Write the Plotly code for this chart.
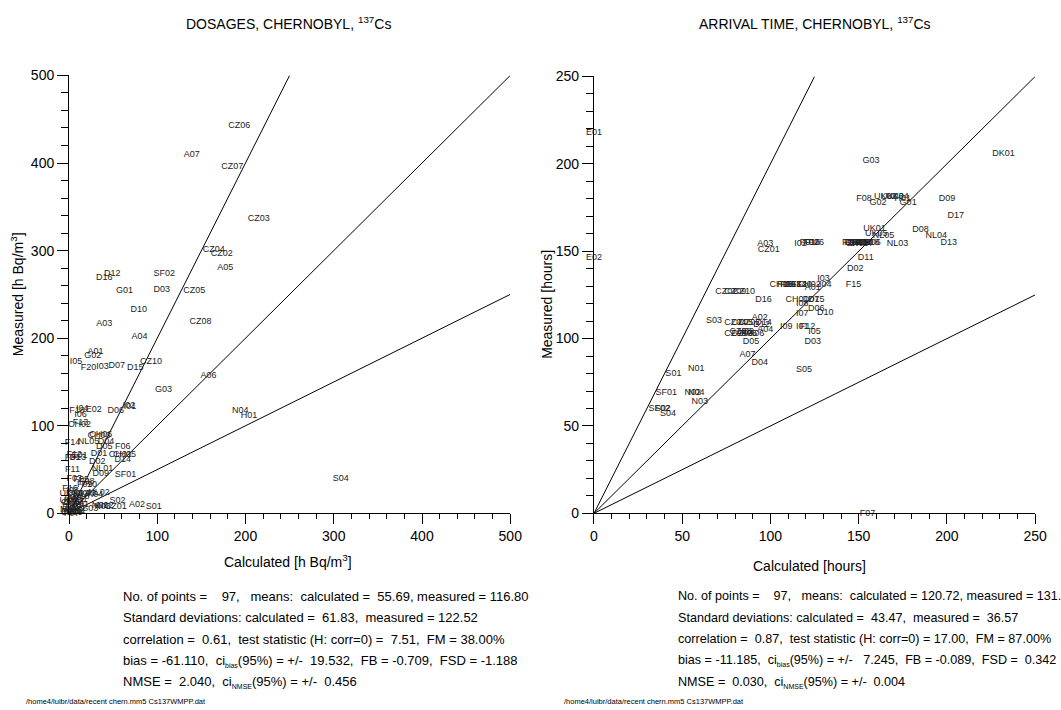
import plotly.graph_objects as go

W, H = 1061, 710
FONT = "Liberation Sans, Arial, sans-serif"

# ---------------- Data: DOSAGES (left) ----------------
dos_labels = ["CZ06", "A07", "CZ07", "CZ03", "CZ04", "CZ02", "A05", "D12", "D16", "SF02",
              "G01", "D03", "CZ05", "D10", "A03", "CZ08", "A04", "A01", "G02", "I05",
              "F20", "I03", "D07", "D15", "CZ10", "A06", "G03", "D06", "I02", "I01",
              "N04", "H01", "F18", "I04", "I06", "E02", "CH02", "F13", "CH03", "CH06",
              "F14", "NL05", "D04", "D05", "F06", "F12", "E01", "D01", "CH01", "CH05",
              "D14", "D02", "F01", "D13", "F11", "NL01", "D09", "SF01", "F03", "F05",
              "F08", "F09", "F10", "NL02", "UK01", "UK02", "UK03", "UK04", "S02", "N03",
              "CZ01", "A02", "S01", "S03", "S04", "N01", "N02", "UK05", "D08", "D17",
              "NL03", "NL04", "F04", "F07", "F15", "DK01", "CH04", "I09", "F17", "D11",
              "I07", "I08", "F16", "F19", "CZ09", "S05", "D18"]
dos_calc = [193, 139, 185, 215, 164, 173, 177, 49, 40, 108,
            63, 105, 142, 79, 40, 149, 80, 30, 27, 8,
            22, 38, 54, 75, 93, 158, 107, 53, 68, 69,
            194, 204, 9, 15, 13, 28, 12, 13, 34, 36,
            4, 22, 42, 40, 61, 6, 12, 34, 58, 63,
            61, 32, 4, 10, 4, 38, 36, 64, 6, 14,
            20, 18, 23, 34, 2, 10, 18, 26, 55, 38,
            53, 77, 96, 24, 308, 35, 41, 2, 3, 5,
            2, 6, 0, 3, 1, 10, 4, 2, 8, 12,
            6, 4, 1, 9, 3, 5, 14]
dos_meas = [442, 409, 396, 336, 301, 296, 280, 273, 269, 274,
            254, 255, 254, 232, 216, 219, 202, 184, 180, 173,
            166, 167, 169, 166, 173, 157, 141, 117, 123, 122,
            117, 111, 117, 119, 113, 118, 101, 103, 89, 90,
            81, 82, 82, 76, 76, 67, 66, 68, 67, 67,
            61, 59, 64, 63, 50, 51, 45, 44, 39, 38,
            36, 33, 33, 24, 22, 22, 22, 21, 14, 8,
            8, 10, 8, 5, 39, 9, 9, 14, 12, 6,
            4, 2, 2, 0, 8, 10, 12, 15, 13, 16,
            18, 26, 28, 5, 1, 3, 19]

# ---------------- Data: ARRIVAL TIME (right) ----------------
arr_labels = ["E01", "DK01", "G03", "F08", "G02", "UK02", "UK03", "UK04", "H01", "G01",
              "D09", "D17", "D08", "NL04", "D13", "UK01", "UK05", "NL05", "NL03", "F03",
              "F04", "F05", "F09", "F10", "CH03", "CH04", "CH06", "I02", "F01", "F02",
              "F06", "F16", "A03", "CZ01", "E02", "D11", "D02", "F15", "I03", "I04",
              "A01", "CH05", "F11", "F19", "F13", "F14", "CZ02", "CZ09", "CZ10", "D16",
              "CH01", "D07", "D15", "I08", "D06", "D10", "I07", "I01", "F12", "I05",
              "D03", "S03", "A02", "CZ04", "CZ05", "CZ07", "D12", "D14", "A04", "CZ06",
              "CZ03", "A05", "A06", "CZ08", "D05", "A07", "D04", "S05", "S01", "N01",
              "SF01", "N02", "N04", "N03", "SF02", "S02", "S04", "F07", "D01", "D18",
              "F17", "F18", "F20", "CH02", "I06", "I09", "H02"]
arr_calc = [0, 232, 157, 153, 161, 165, 169, 172, 175, 178,
            200, 205, 185, 194, 201, 159, 160, 164, 172, 146,
            148, 150, 152, 154, 149, 151, 156, 117, 121, 123,
            126, 124, 97, 99, 0, 154, 148, 147, 130, 131,
            124, 106, 108, 110, 113, 116, 75, 80, 85, 96,
            115, 123, 126, 118, 126, 131, 118, 118, 121, 125,
            124, 68, 94, 80, 84, 88, 95, 96, 97, 80,
            84, 88, 92, 83, 89, 87, 94, 119, 45, 58,
            41, 56, 58, 60, 37, 39, 42, 155, 147, 157,
            153, 145, 119, 122, 111, 109, 86]
arr_meas = [218, 206, 202, 180, 178, 181, 181, 181, 180, 178,
            180, 170, 162, 159, 155, 163, 160, 159, 154, 155,
            155, 155, 155, 155, 154, 154, 155, 154, 155, 155,
            155, 155, 154, 151, 146, 146, 140, 131, 134, 131,
            129, 131, 131, 131, 131, 131, 127, 127, 127, 122,
            122, 122, 122, 120, 117, 115, 114, 107, 107, 104,
            98, 110, 112, 109, 109, 109, 108, 109, 105, 103,
            103, 103, 103, 104, 98, 91, 86, 82, 80, 83,
            69, 69, 69, 64, 60, 60, 57, 0, 155, 155,
            155, 155, 131, 131, 131, 107, 104]

# axis ranges and reference-line factors
dos_range = [0, 500]
arr_range = [0, 250]
factors = [2.0, 1.0, 0.5]

SUB = "<sub><span style='font-size:7px'>%s</span></sub>"
dos_stats = [
    "No. of points =    97,   means:  calculated =  55.69, measured = 116.80",
    "Standard deviations: calculated =  61.83,  measured = 122.52",
    "correlation =  0.61,  test statistic (H: corr=0) =  7.51,  FM = 38.00%",
    "bias = -61.110,  ci" + SUB % "bias" + "(95%) = +/-  19.532,  FB = -0.709,  FSD = -1.188",
    "NMSE =  2.040,  ci" + SUB % "NMSE" + "(95%) = +/-  0.456",
]
arr_stats = [
    "No. of points =    97,   means:  calculated = 120.72, measured = 131.91",
    "Standard deviations: calculated =  43.47,  measured =  36.57",
    "correlation =  0.87,  test statistic (H: corr=0) = 17.00,  FM = 87.00%",
    "bias = -11.185,  ci" + SUB % "bias" + "(95%) = +/-   7.245,  FB = -0.089,  FSD =  0.342",
    "NMSE =  0.030,  ci" + SUB % "NMSE" + "(95%) = +/-  0.004",
]
footer = "/home4/luibr/data/recent chern.mm5 Cs137WMPP.dat"


def px(x):
    return x / W


def py(y):
    return 1 - y / H


fig = go.Figure()


def add_panel(labels, calc, meas, rng, xa, ya):
    top = rng[1]
    for f in factors:
        xe = min(top, top / f)
        fig.add_trace(go.Scatter(x=[0, xe], y=[0, f * xe], mode="lines",
                                 line=dict(color="black", width=1),
                                 xaxis=xa, yaxis=ya, showlegend=False,
                                 hoverinfo="skip", cliponaxis=False))
    fig.add_trace(go.Scatter(x=calc, y=meas, text=labels, mode="text",
                             textposition="middle center",
                             textfont=dict(family=FONT, size=9, color="#222"),
                             xaxis=xa, yaxis=ya, showlegend=False,
                             cliponaxis=False))


add_panel(dos_labels, dos_calc, dos_meas, dos_range, "x", "y")
add_panel(arr_labels, arr_calc, arr_meas, arr_range, "x2", "y2")


def axis(domain, rng, dtick, minor, anchor, ticklen, minorlen):
    return dict(domain=domain, range=rng, anchor=anchor, showline=True,
                linecolor="black", linewidth=1, ticks="outside", ticklen=ticklen,
                tickwidth=1, tickcolor="black", dtick=dtick, tick0=0,
                minor=dict(ticks="outside", ticklen=minorlen, dtick=minor,
                           tickcolor="black", tickwidth=1, showgrid=False),
                showgrid=False, zeroline=False,
                tickfont=dict(family=FONT, size=14, color="black"))


fig.update_layout(
    width=W, height=H, margin=dict(l=0, r=0, t=0, b=0),
    paper_bgcolor="white", plot_bgcolor="white",
    font=dict(family=FONT, color="black"),
    xaxis=axis([px(66), px(514)], dos_range, 100, 20, "y", 10, 5),
    yaxis=axis([py(517), py(69)], dos_range, 100, 20, "x", 11, 7),
    xaxis2=axis([px(599), px(1047)], arr_range, 50, 10, "y2", 10, 5),
    yaxis2=axis([py(517), py(70)], arr_range, 50, 10, "x2", 11, 7),
)

ann = []


def text(x, y, s, size=14, xanchor="center", angle=0, yanchor="middle"):
    ann.append(dict(x=px(x), y=py(y), xref="paper", yref="paper", text=s,
                    showarrow=False, xanchor=xanchor, yanchor=yanchor,
                    textangle=angle, font=dict(family=FONT, size=size, color="black")))


text(289, 15, "DOSAGES, CHERNOBYL, <sup>137</sup>Cs", 14)
text(823, 15, "ARRIVAL TIME, CHERNOBYL, <sup>137</sup>Cs", 14)
text(288, 566, "Calculated [h Bq/m<sup>3</sup>]", 14)
text(818, 571, "Calculated [hours]", 14)
text(14, 293, "Measured [h Bq/m<sup>3</sup>]", 14, angle=-90)
text(551, 303, "Measured [hours]", 14, angle=-90)

for i, s in enumerate(dos_stats):
    text(119, 602 + 22 * i, s, 13, xanchor="left")
for i, s in enumerate(arr_stats):
    text(682, 602 + 22 * i, s, 12.6, xanchor="left")

text(20, 716, footer, 7.5, xanchor="left", yanchor="bottom")
text(567, 716, footer, 7.5, xanchor="left", yanchor="bottom")

fig.update_layout(annotations=ann)
fig.write_html("out.html")
